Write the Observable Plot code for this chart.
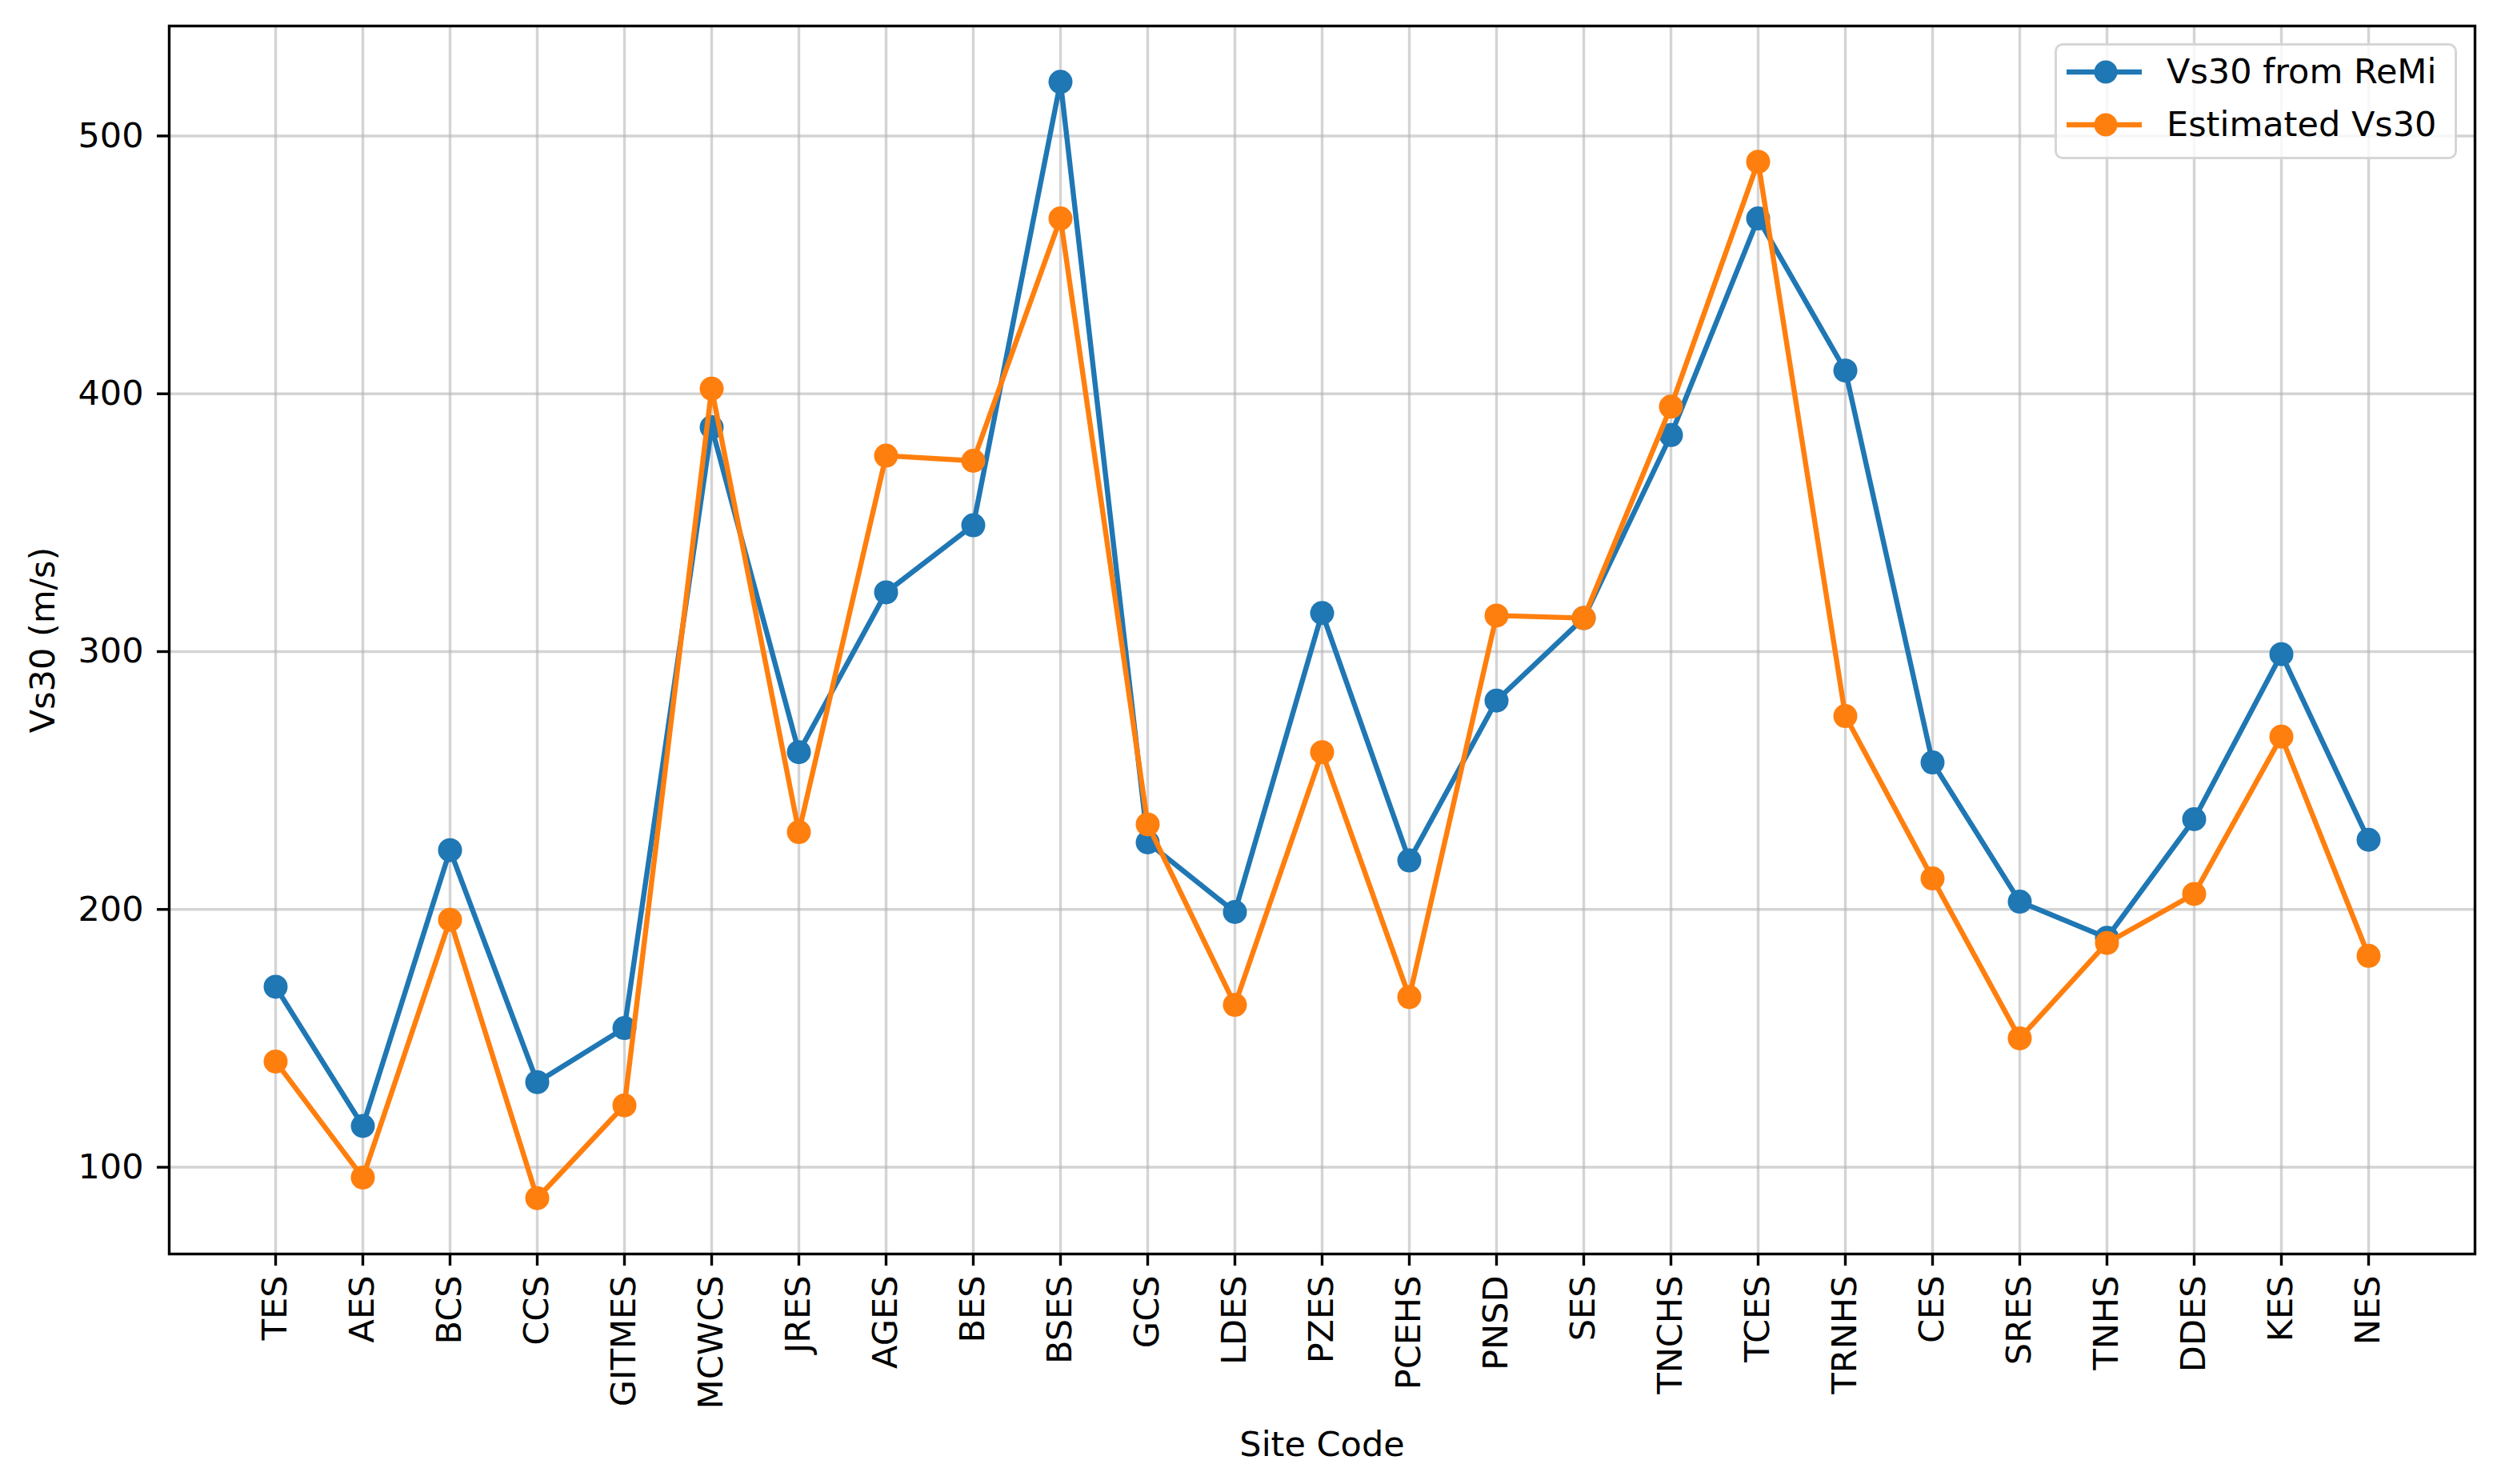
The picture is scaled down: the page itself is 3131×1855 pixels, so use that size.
<!DOCTYPE html>
<html><head><meta charset="utf-8">
<script src="https://cdn.jsdelivr.net/npm/d3@7"></script>
<script src="https://cdn.jsdelivr.net/npm/@observablehq/plot@0.6"></script>
<style>
html,body{margin:0;padding:0;background:white;}
#wrap{position:relative;width:3131px;height:1855px;font-family:"DejaVu Sans";}
#legend{position:absolute;left:2568px;top:54px;width:503px;height:145px;box-sizing:border-box;border:3.4px solid rgba(204,204,204,0.8);border-radius:10px;background:rgba(255,255,255,0.8);}
.lrow{position:absolute;left:0;height:66px;width:100%;}
.lrow svg{position:absolute;left:0;top:0;}
.lrow span{position:absolute;left:137px;top:50%;transform:translateY(-52%);font-size:43px;line-height:1;color:black;white-space:nowrap;}
</style></head><body><div id="wrap"></div>
<script>
const sites = ["TES","AES","BCS","CCS","GITMES","MCWCS","JRES","AGES","BES","BSES","GCS","LDES","PZES","PCEHS","PNSD","SES","TNCHS","TCES","TRNHS","CES","SRES","TNHS","DDES","KES","NES"];
const remi = [170,116,223,133,154,387,261,323,349,521,226,199,315,219,281,313,384,468,409,257,203,189,235,299,227];
const estimated = [141,96,196,88,124,402,230,376,374,468,233,163,261,166,314,313,395,490,275,212,150,187,206,267,182];
const seriesNames = ["Vs30 from ReMi", "Estimated Vs30"];
const seriesColors = ["#1f77b4", "#ff7f0e"];
const yTicks = [100, 200, 300, 400, 500];
const xTitle = "Site Code";
const yTitle = "Vs30 (m/s)";

const rowsRemi = sites.map((s, i) => ({site: s, v: remi[i]}));
const rowsEst = sites.map((s, i) => ({site: s, v: estimated[i]}));
const all = remi.concat(estimated);
const [lo, hi] = d3.extent(all);
const pad = (hi - lo) * 0.05;

const FS = 43;
const chart = Plot.plot({
  width: 3131,
  height: 1855,
  marginLeft: 211,
  marginRight: 38,
  marginTop: 32,
  marginBottom: 288,
  style: {fontFamily: "DejaVu Sans", fontSize: FS + "px", color: "black", background: "white", overflow: "visible"},
  x: {type: "point", domain: sites, padding: 1.2},
  y: {domain: [lo - pad, hi + pad]},
  marks: [
    Plot.gridX(sites, {stroke: "#b0b0b0", strokeOpacity: 0.55, strokeWidth: 3.4}),
    Plot.gridY(yTicks, {stroke: "#b0b0b0", strokeOpacity: 0.55, strokeWidth: 3.4}),
    Plot.axisY(yTicks, {tickSize: 15, tickPadding: 17, fontSize: FS, strokeWidth: 3.4, label: null}),
    Plot.axisX(sites, {tickSize: 15, tickPadding: 12, tickRotate: -90, fontSize: FS, strokeWidth: 3.4, label: null}),
    Plot.line(rowsRemi, {x: "site", y: "v", stroke: seriesColors[0], strokeWidth: 6.4}),
    Plot.dot(rowsRemi, {x: "site", y: "v", fill: seriesColors[0], r: 15}),
    Plot.line(rowsEst, {x: "site", y: "v", stroke: seriesColors[1], strokeWidth: 6.4}),
    Plot.dot(rowsEst, {x: "site", y: "v", fill: seriesColors[1], r: 15}),
    Plot.frame({stroke: "black", strokeWidth: 3.4}),
    Plot.text([yTitle], {frameAnchor: "left", text: d => d, rotate: -90, dx: -157, fontSize: FS, textAnchor: "middle", lineAnchor: "middle"}),
    Plot.text([xTitle], {frameAnchor: "bottom", text: d => d, dy: 239, fontSize: FS, textAnchor: "middle", lineAnchor: "middle"})
  ]
});
const wrap = document.getElementById("wrap");
wrap.appendChild(chart);

const legend = d3.select(wrap).append("div").attr("id", "legend");
seriesNames.forEach((name, i) => {
  const row = legend.append("div").attr("class", "lrow").style("top", (66 * i + 0.3) + "px");
  const svg = row.append("svg").attr("width", 130).attr("height", 66);
  svg.append("line").attr("x1", 12).attr("x2", 106).attr("y1", 33).attr("y2", 33)
    .attr("stroke", seriesColors[i]).attr("stroke-width", 6.4);
  svg.append("circle").attr("cx", 61).attr("cy", 33).attr("r", 14.5).attr("fill", seriesColors[i]);
  row.append("span").text(name);
});
</script>
</body></html>
